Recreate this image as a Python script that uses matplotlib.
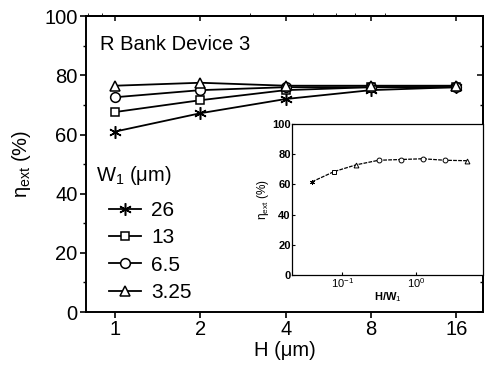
import matplotlib
matplotlib.use("Agg")
import matplotlib.pyplot as plt
from matplotlib.ticker import FixedLocator

plt.rcParams['font.family'] = ['Liberation Sans', 'DejaVu Sans']
plt.rcParams['mathtext.fontset'] = 'custom'
plt.rcParams['mathtext.rm'] = 'Liberation Sans'
plt.rcParams['mathtext.it'] = 'Liberation Sans'

# Waveguide height H (um) and external efficiency for each width W1
H = [1, 2, 4, 8, 16]
w1_labels = ["26", "13", "6.5", "3.25"]
eta_26 = [61.0, 67.2, 72.0, 75.0, 76.0]
eta_13 = [67.6, 71.6, 75.0, 76.0, 76.0]
eta_6p5 = [72.6, 75.0, 76.0, 76.0, 76.0]
eta_3p25 = [76.5, 77.5, 76.5, 76.5, 76.5]

# Inset: efficiency vs aspect ratio H/W1
hw_ratio = [0.0385, 0.077, 0.154, 0.31, 0.615, 1.23, 2.46, 4.92]
eta_hw = [61.7, 68.5, 73.0, 76.0, 76.5, 77.0, 76.0, 75.7]

fig = plt.figure(figsize=(4.86, 3.76), dpi=100)
ax = fig.add_axes([0.177, 0.170, 0.817, 0.787])

series = [eta_26, eta_13, eta_6p5, eta_3p25]
markers = [(6, 2, 0), 's', 'o', '^']
sizes = [9, 6, 7, 7]
for vals, m, ms, lab in zip(series, markers, sizes, w1_labels):
    ax.plot(H, vals, color='black', lw=1.3, marker=m, ms=ms,
            mfc='white', mec='black', mew=1.1, label=lab)

ax.set_xscale('log', base=2)
ax.set_xlim(0.79, 19.9)
ax.set_ylim(0, 100)
ax.xaxis.set_major_locator(FixedLocator(H))
ax.set_xticklabels([str(h) for h in H])
ax.xaxis.set_minor_locator(FixedLocator([]))
ax.set_yticks([0, 20, 40, 60, 80, 100])
ax.set_yticks([10, 30, 50, 70, 90], minor=True)
ax.tick_params(axis='both', which='major', labelsize=14.5, length=4, width=1.2,
               direction='out', pad=2)
ax.tick_params(axis='both', which='minor', length=2.5, width=1.0, direction='out')
for sp in ax.spines.values():
    sp.set_linewidth(1.4)

# inward ticks along the top and right edges
top = ax.secondary_xaxis('top')
top.xaxis.set_major_locator(FixedLocator(H))
top.tick_params(direction='in', length=3.5, width=1.1, labeltop=False)
top.spines['top'].set_linewidth(1.4)
right = ax.secondary_yaxis('right')
right.yaxis.set_major_locator(FixedLocator([0, 20, 40, 60, 80, 100]))
right.yaxis.set_minor_locator(FixedLocator([10, 30, 50, 70, 90]))
right.tick_params(which='major', direction='in', length=4, width=1.1, labelright=False)
right.tick_params(which='minor', direction='in', length=2.5, width=1.0)
right.spines['right'].set_linewidth(1.4)

ax.set_xlabel('H (\u03bcm)', fontsize=14.5, labelpad=1)
ax.set_ylabel('$\\eta_{\\mathrm{ext}}$ (%)', fontsize=14.5, labelpad=8)

ax.text(0.035, 0.905, 'R Bank Device 3', transform=ax.transAxes,
        fontsize=14.5, va='center', ha='left')
ax.text(0.025, 0.46, 'W$_{1}$ (\u03bcm)', transform=ax.transAxes,
        fontsize=14.5, va='center', ha='left')

leg = ax.legend(loc='lower left', bbox_to_anchor=(0.02, -0.015), frameon=False,
                fontsize=15, handlelength=1.55, handletextpad=0.5,
                labelspacing=0.4, borderaxespad=0.3)

# Inset
ins = fig.add_axes([0.601, 0.269, 0.393, 0.401])
ins.plot(hw_ratio, eta_hw, color='black', lw=0.9, ls=(0, (3, 1)))
inset_markers = [(6, 2, 0), 's', '^', 'o', 'o', 'o', 'o', '^']
for x, y, m in zip(hw_ratio, eta_hw, inset_markers):
    ins.plot([x], [y], marker=m, ms=3.5, mfc='white', mec='black', mew=0.7,
             color='black')
ins.set_xscale('log')
ins.set_xlim(0.0207, 8.1)
ins.set_ylim(0, 100)
ins.set_yticks([0, 20, 40, 60, 80, 100])
ins.xaxis.set_major_locator(FixedLocator([0.1, 1.0]))
ins.set_xticklabels(['$10^{-1}$', '$10^{0}$'])
ins.xaxis.set_minor_locator(FixedLocator([]))
ins.tick_params(axis='both', labelsize=8, length=2, width=0.8, pad=1,
                direction='in')
for lab in ins.get_xticklabels() + ins.get_yticklabels():
    lab.set_fontweight('bold')
for sp in ins.spines.values():
    sp.set_linewidth(0.9)
    sp.set_linestyle((0, (2, 1)))
ins.set_xlabel('H/W$_{1}$', fontsize=8, labelpad=0, fontweight='bold')
ins.set_ylabel('$\\eta_{\\mathrm{ext}}$ (%)', fontsize=8.5, labelpad=1)

fig.savefig('out.png', dpi=100)
